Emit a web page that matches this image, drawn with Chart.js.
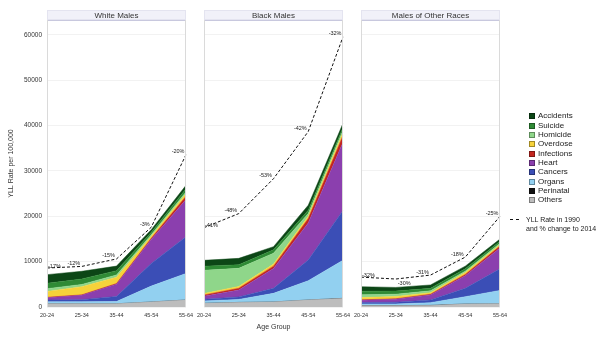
<!DOCTYPE html>
<html>
<head>
<meta charset="utf-8">
<script src="https://cdn.jsdelivr.net/npm/chart.js@4.4.0/dist/chart.umd.min.js"></script>
<style>
  body { margin: 0; background: #fff; font-family: "Liberation Sans", Arial, sans-serif; }
  #wrap { position: relative; width: 600px; height: 338px; overflow: hidden; }
  #wrap canvas { position: absolute; left: 0; top: 0; }
  .key { position: absolute; font-size: 8px; color: #222; white-space: nowrap; line-height: 9px; }
  .sw { position: absolute; width: 4px; height: 4px; border: 0.5px solid rgba(0,0,0,0.35); }
</style>
</head>
<body>
<div id="wrap">
  <canvas id="white" width="600" height="338"></canvas>
  <canvas id="black" width="600" height="338"></canvas>
  <canvas id="other" width="600" height="338"></canvas>
  <div id="legend"></div>
</div>
<script>
const ageGroups = ["20-24", "25-34", "35-44", "45-54", "55-64"];

// stacking order, bottom to top
const causes = ["Others", "Perinatal", "Organs", "Cancers", "Heart", "Infections", "Overdose", "Homicide", "Suicide", "Accidents"];
const causeColors = ["#bdbdbd", "#111111", "#92d0f0", "#3b4eb6", "#8b3fae", "#c4261f", "#f6d23a", "#8fd68a", "#2f8a35", "#0c4616"];

// YLL rate per 100,000 in 2014, one row per cause (same order as causes)
const whiteOthers     = [700, 700, 700, 1100, 1540];
const whitePerinatal  = [20, 15, 10, 10, 10];
const whiteOrgans     = [420, 460, 510, 3500, 5850];
const whiteCancers    = [400, 450, 1100, 5000, 8070];
const whiteHeart      = [500, 950, 2700, 5300, 8220];
const whiteInfections = [100, 100, 150, 250, 730];
const whiteOverdose   = [1300, 1800, 1400, 450, 580];
const whiteHomicide   = [600, 500, 500, 350, 370];
const whiteSuicide    = [1200, 1200, 950, 500, 730];
const whiteAccidents  = [1900, 1700, 1000, 600, 740];

const blackOthers     = [800, 1000, 1100, 1540, 1900];
const blackPerinatal  = [25, 15, 10, 10, 10];
const blackOrgans     = [520, 660, 1900, 4250, 8400];
const blackCancers    = [350, 550, 1100, 4550, 11000];
const blackHeart      = [700, 1500, 4400, 8200, 15000];
const blackInfections = [250, 400, 500, 950, 1500];
const blackOverdose   = [350, 400, 450, 500, 700];
const blackHomicide   = [5100, 4000, 2400, 600, 500];
const blackSuicide    = [900, 800, 750, 750, 600];
const blackAccidents  = [1300, 1400, 700, 1100, 900];

const otherOthers     = [300, 300, 350, 660, 700];
const otherPerinatal  = [15, 10, 10, 10, 10];
const otherOrgans     = [360, 360, 600, 1600, 2950];
const otherCancers    = [300, 400, 600, 1840, 4760];
const otherHeart      = [500, 650, 1100, 2780, 4600];
const otherInfections = [100, 100, 150, 290, 440];
const otherOverdose   = [500, 500, 350, 440, 290];
const otherHomicide   = [600, 500, 400, 290, 290];
const otherSuicide    = [800, 700, 550, 510, 440];
const otherAccidents  = [1000, 800, 750, 590, 510];

// total YLL rate in 1990 and the % change to 2014
const white1990 = [8600, 8950, 10600, 17600, 33600];
const black1990 = [17500, 20600, 28300, 38700, 59600];
const other1990 = [6590, 6170, 7040, 11000, 20000];
const whiteChange = ["-17%", "-12%", "-15%", "-3%", "-20%"];
const blackChange = ["-41%", "-48%", "-53%", "-42%", "-32%"];
const otherChange = ["-32%", "-30%", "-31%", "-18%", "-25%"];

const yTicks = [0, 10000, 20000, 30000, 40000, 50000, 60000];

Chart.defaults.font.family = '"Liberation Sans", Arial, sans-serif';
Chart.defaults.color = "#333";

const panels = [
  { id: "white", title: "White Males", left: 47, right: 186,
    series: [whiteOthers, whitePerinatal, whiteOrgans, whiteCancers, whiteHeart, whiteInfections, whiteOverdose, whiteHomicide, whiteSuicide, whiteAccidents],
    rate1990: white1990, change: whiteChange },
  { id: "black", title: "Black Males", left: 204, right: 343,
    series: [blackOthers, blackPerinatal, blackOrgans, blackCancers, blackHeart, blackInfections, blackOverdose, blackHomicide, blackSuicide, blackAccidents],
    rate1990: black1990, change: blackChange },
  { id: "other", title: "Males of Other Races", left: 361, right: 500,
    series: [otherOthers, otherPerinatal, otherOrgans, otherCancers, otherHeart, otherInfections, otherOverdose, otherHomicide, otherSuicide, otherAccidents],
    rate1990: other1990, change: otherChange }
];

// header strip above each panel plus the side rules
const panelFrame = {
  id: "panelFrame",
  afterDraw(chart, args, opts) {
    const { ctx, chartArea: a } = chart;
    ctx.save();
    ctx.fillStyle = "#f1f1f9";
    ctx.fillRect(a.left, a.top - 10, a.right - a.left, 10);
    ctx.strokeStyle = "#e4e4f0";
    ctx.lineWidth = 1;
    ctx.strokeRect(a.left + 0.5, a.top - 9.5, a.right - a.left - 1, 9);
    ctx.strokeStyle = "#c8c8de";
    ctx.beginPath();
    ctx.moveTo(a.left, a.top + 0.5);
    ctx.lineTo(a.right, a.top + 0.5);
    ctx.stroke();
    ctx.strokeStyle = "#dadada";
    ctx.beginPath();
    ctx.moveTo(a.left + 0.5, a.top);
    ctx.lineTo(a.left + 0.5, a.bottom);
    ctx.moveTo(a.right - 0.5, a.top);
    ctx.lineTo(a.right - 0.5, a.bottom);
    ctx.stroke();
    ctx.fillStyle = "#333";
    ctx.font = '8px "Liberation Sans", Arial, sans-serif';
    ctx.textAlign = "center";
    ctx.textBaseline = "middle";
    ctx.fillText(opts.title, (a.left + a.right) / 2, a.top - 4.5);
    ctx.restore();
  }
};

// % change labels next to the 1990 line
const changeLabels = {
  id: "changeLabels",
  afterDatasetsDraw(chart, args, opts) {
    const idx = chart.data.datasets.findIndex(d => d.stack === "rate1990");
    const meta = chart.getDatasetMeta(idx);
    const vals = chart.data.datasets[idx].data;
    const { ctx } = chart;
    ctx.save();
    ctx.fillStyle = "#222";
    ctx.font = '5.5px "Liberation Sans", Arial, sans-serif';
    ctx.textBaseline = "middle";
    meta.data.forEach((pt, i) => {
      const isLow = i > 0 && i < vals.length - 1 && vals[i] < vals[i - 1] && vals[i] < vals[i + 1];
      if (i === 0) {
        ctx.textAlign = "left";
        ctx.fillText(opts.text[i], pt.x + 1, pt.y - 2);
      } else if (isLow) {
        ctx.textAlign = "left";
        ctx.fillText(opts.text[i], pt.x + 2, pt.y + 4);
      } else {
        ctx.textAlign = "right";
        ctx.fillText(opts.text[i], pt.x - 1.5, pt.y - 3);
      }
    });
    ctx.restore();
  }
};

panels.forEach((p, n) => {
  const datasets = p.series.map((vals, i) => ({
    label: causes[i],
    data: vals,
    backgroundColor: causeColors[i],
    borderColor: causeColors[i],
    borderWidth: 0.5,
    fill: i === 0 ? "origin" : "-1",
    stack: "cause"
  }));
  datasets.push({
    label: "YLL Rate in 1990",
    data: p.rate1990,
    borderColor: "#111",
    borderWidth: 1,
    borderDash: [3, 2],
    fill: false,
    stack: "rate1990",
    order: -1
  });

  const first = n === 0;
  new Chart(document.getElementById(p.id), {
    type: "line",
    data: { labels: ageGroups, datasets },
    options: {
      responsive: false,
      animation: false,
      devicePixelRatio: 1,
      layout: { padding: { left: first ? 0 : p.left, right: 600 - p.right, top: 20, bottom: 0 } },
      elements: { point: { radius: 0 }, line: { tension: 0 } },
      plugins: {
        legend: { display: false },
        tooltip: { enabled: false },
        panelFrame: { title: p.title },
        changeLabels: { text: p.change }
      },
      scales: {
        x: {
          offset: false,
          grid: { display: false, drawTicks: false },
          border: { display: false },
          ticks: { font: { size: 5.5 }, color: "#333", padding: 5, maxRotation: 0, autoSkip: false },
          title: { display: n === 1, text: "Age Group", font: { size: 7 }, color: "#333", padding: { top: 0, bottom: 7 } },
          afterFit: s => { s.height = 31; }
        },
        y: {
          stacked: true,
          min: 0,
          max: 63300,
          grid: { color: "#f2f2f2", drawTicks: false },
          border: { display: false },
          ticks: { display: first, font: { size: 6.5 }, color: "#333", padding: 5, callback: v => String(v) },
          title: { display: first, text: "YLL Rate per 100,000", font: { size: 7 }, color: "#333", padding: { top: 7, bottom: 0 } },
          afterBuildTicks: s => { s.ticks = yTicks.map(v => ({ value: v })); },
          afterFit: s => { s.width = first ? p.left : 0; }
        }
      }
    },
    plugins: [panelFrame, changeLabels]
  });
});

// legend, top entry is the top layer of the stack
const legend = document.getElementById("legend");
causes.slice().reverse().forEach((name, i) => {
  const y = 115.7 + i * 9.33;
  const sw = document.createElement("div");
  sw.className = "sw";
  sw.style.left = "529px";
  sw.style.top = (y - 2.5) + "px";
  sw.style.background = causeColors[causes.length - 1 - i];
  legend.appendChild(sw);
  const t = document.createElement("div");
  t.className = "key";
  t.style.left = "538px";
  t.style.top = (y - 4.5) + "px";
  t.textContent = name;
  legend.appendChild(t);
});
const dash = document.createElement("div");
dash.style.cssText = "position:absolute;left:510px;top:219px;width:9px;border-top:1px dashed #111;";
legend.appendChild(dash);
["YLL Rate in 1990", "and % change to 2014"].forEach((line, i) => {
  const t = document.createElement("div");
  t.className = "key";
  t.style.fontSize = "7px";
  t.style.left = "526px";
  t.style.top = (215 + i * 8.7) + "px";
  t.textContent = line;
  legend.appendChild(t);
});
</script>
</body>
</html>
